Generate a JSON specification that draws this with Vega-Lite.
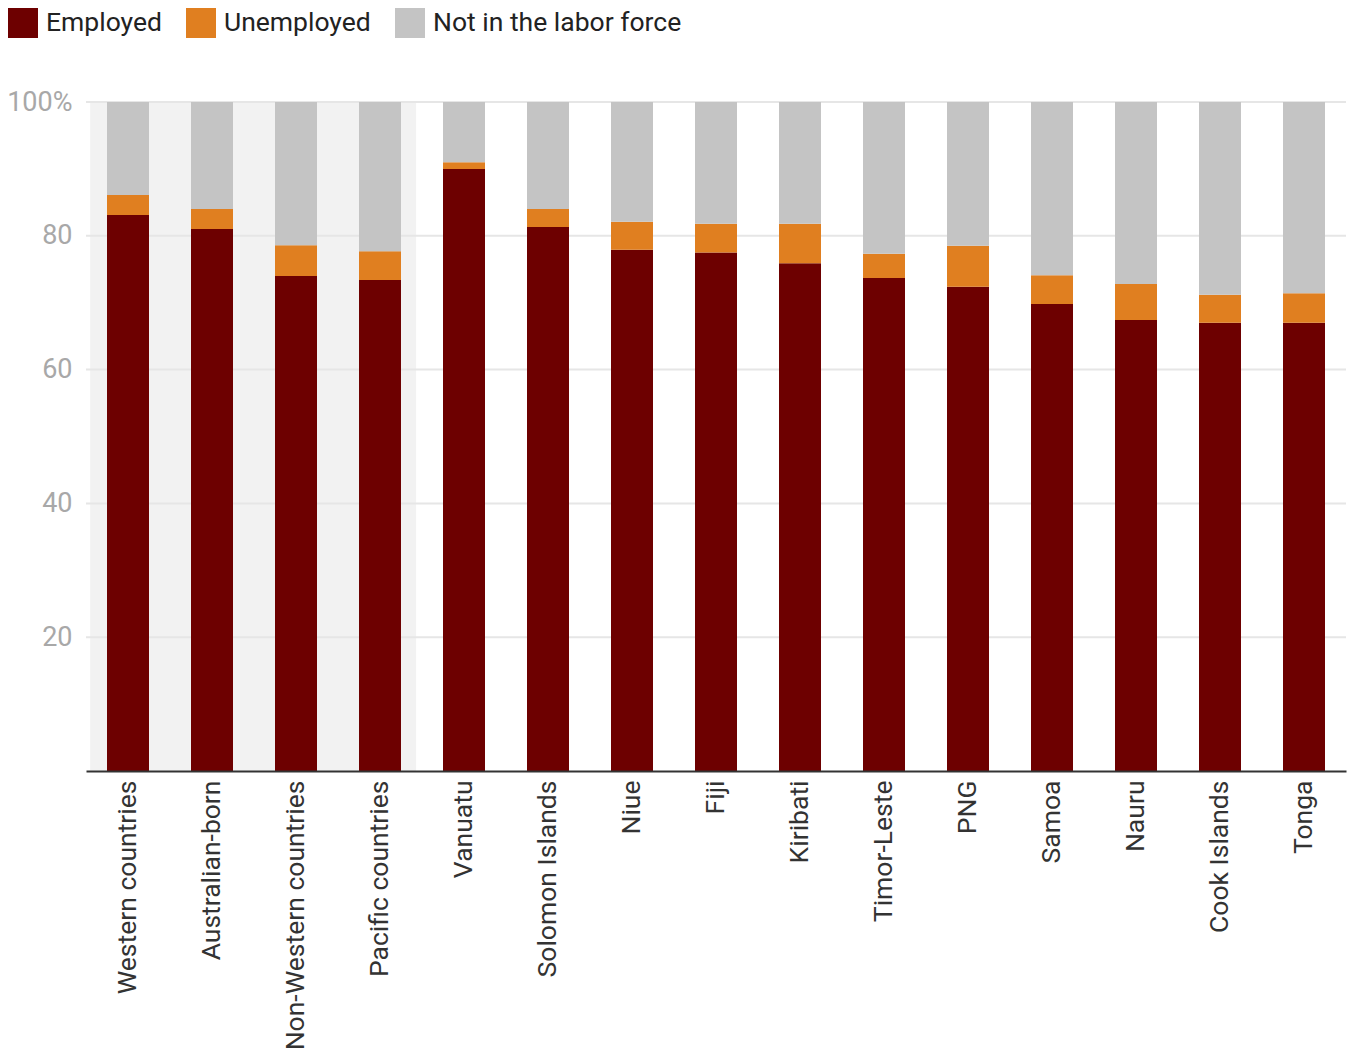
{
  "$schema": "https://vega.github.io/schema/vega-lite/v6.json",
  "width": 1260,
  "height": 669,
  "autosize": {"type": "none"},
  "padding": {"left": 86, "top": 102, "right": 6, "bottom": 283},
  "background": "white",
  "config": {
    "font": "Roboto",
    "view": {"stroke": null}
  },
  "datasets": {
    "bars": [
      {"group": "Western countries", "status": "Employed", "k": 1, "value": 83.1},
      {"group": "Western countries", "status": "Unemployed", "k": 2, "value": 3.0},
      {"group": "Western countries", "status": "Not in the labor force", "k": 3, "value": 13.9},
      {"group": "Australian-born", "status": "Employed", "k": 1, "value": 81.0},
      {"group": "Australian-born", "status": "Unemployed", "k": 2, "value": 3.0},
      {"group": "Australian-born", "status": "Not in the labor force", "k": 3, "value": 16.0},
      {"group": "Non-Western countries", "status": "Employed", "k": 1, "value": 74.0},
      {"group": "Non-Western countries", "status": "Unemployed", "k": 2, "value": 4.6},
      {"group": "Non-Western countries", "status": "Not in the labor force", "k": 3, "value": 21.4},
      {"group": "Pacific countries", "status": "Employed", "k": 1, "value": 73.4},
      {"group": "Pacific countries", "status": "Unemployed", "k": 2, "value": 4.3},
      {"group": "Pacific countries", "status": "Not in the labor force", "k": 3, "value": 22.3},
      {"group": "Vanuatu", "status": "Employed", "k": 1, "value": 90.0},
      {"group": "Vanuatu", "status": "Unemployed", "k": 2, "value": 1.0},
      {"group": "Vanuatu", "status": "Not in the labor force", "k": 3, "value": 9.0},
      {"group": "Solomon Islands", "status": "Employed", "k": 1, "value": 81.3},
      {"group": "Solomon Islands", "status": "Unemployed", "k": 2, "value": 2.7},
      {"group": "Solomon Islands", "status": "Not in the labor force", "k": 3, "value": 16.0},
      {"group": "Niue", "status": "Employed", "k": 1, "value": 77.9},
      {"group": "Niue", "status": "Unemployed", "k": 2, "value": 4.2},
      {"group": "Niue", "status": "Not in the labor force", "k": 3, "value": 17.9},
      {"group": "Fiji", "status": "Employed", "k": 1, "value": 77.5},
      {"group": "Fiji", "status": "Unemployed", "k": 2, "value": 4.3},
      {"group": "Fiji", "status": "Not in the labor force", "k": 3, "value": 18.2},
      {"group": "Kiribati", "status": "Employed", "k": 1, "value": 75.9},
      {"group": "Kiribati", "status": "Unemployed", "k": 2, "value": 5.9},
      {"group": "Kiribati", "status": "Not in the labor force", "k": 3, "value": 18.2},
      {"group": "Timor-Leste", "status": "Employed", "k": 1, "value": 73.7},
      {"group": "Timor-Leste", "status": "Unemployed", "k": 2, "value": 3.6},
      {"group": "Timor-Leste", "status": "Not in the labor force", "k": 3, "value": 22.7},
      {"group": "PNG", "status": "Employed", "k": 1, "value": 72.4},
      {"group": "PNG", "status": "Unemployed", "k": 2, "value": 6.1},
      {"group": "PNG", "status": "Not in the labor force", "k": 3, "value": 21.5},
      {"group": "Samoa", "status": "Employed", "k": 1, "value": 69.8},
      {"group": "Samoa", "status": "Unemployed", "k": 2, "value": 4.3},
      {"group": "Samoa", "status": "Not in the labor force", "k": 3, "value": 25.9},
      {"group": "Nauru", "status": "Employed", "k": 1, "value": 67.4},
      {"group": "Nauru", "status": "Unemployed", "k": 2, "value": 5.4},
      {"group": "Nauru", "status": "Not in the labor force", "k": 3, "value": 27.2},
      {"group": "Cook Islands", "status": "Employed", "k": 1, "value": 67.0},
      {"group": "Cook Islands", "status": "Unemployed", "k": 2, "value": 4.2},
      {"group": "Cook Islands", "status": "Not in the labor force", "k": 3, "value": 28.8},
      {"group": "Tonga", "status": "Employed", "k": 1, "value": 67.0},
      {"group": "Tonga", "status": "Unemployed", "k": 2, "value": 4.4},
      {"group": "Tonga", "status": "Not in the labor force", "k": 3, "value": 28.6}
    ],
    "shade": [
      {"start": 0.05, "end": 3.93}
    ],
    "grid": [
      {"v": 20}, {"v": 40}, {"v": 60}, {"v": 80}, {"v": 100}
    ]
  },
  "resolve": {"scale": {"x": "independent"}, "axis": {"x": "independent"}},
  "layer": [
    {
      "data": {"name": "shade"},
      "mark": {"type": "rect", "color": "#f2f2f2"},
      "encoding": {
        "x": {"field": "start", "type": "quantitative", "scale": {"domain": [0, 15], "nice": false, "zero": false}, "axis": null},
        "x2": {"field": "end"},
        "y": {"datum": 0, "type": "quantitative"},
        "y2": {"datum": 100}
      }
    },
    {
      "data": {"name": "grid"},
      "mark": {"type": "rule", "color": "#e6e6e6", "strokeWidth": 2},
      "encoding": {
        "y": {"field": "v", "type": "quantitative"}
      }
    },
    {
      "data": {"name": "bars"},
      "mark": {"type": "bar"},
      "encoding": {
        "x": {
          "field": "group", "type": "nominal",
          "sort": ["Western countries", "Australian-born", "Non-Western countries", "Pacific countries", "Vanuatu", "Solomon Islands", "Niue", "Fiji", "Kiribati", "Timor-Leste", "PNG", "Samoa", "Nauru", "Cook Islands", "Tonga"],
          "scale": {"paddingInner": 0.5, "paddingOuter": 0.25},
          "axis": {
            "title": null, "labelAngle": -90, "labelFontSize": 26.5, "labelColor": "#333333",
            "labelPadding": 9, "ticks": false, "domainColor": "#333333", "domainWidth": 2,
            "labelLimit": 400, "zindex": 1
          }
        },
        "y": {
          "field": "value", "type": "quantitative", "stack": "zero",
          "scale": {"domain": [0, 100]},
          "axis": {
            "title": null, "values": [20, 40, 60, 80, 100],
            "labelExpr": "datum.value == 100 ? '100%' : datum.label",
            "labelFontSize": 27, "labelColor": "#a8a8a8", "labelPadding": 14,
            "ticks": false, "domain": false, "grid": false
          }
        },
        "order": {"field": "k", "type": "quantitative", "sort": "ascending"},
        "color": {
          "field": "status", "type": "nominal",
          "scale": {"domain": ["Employed", "Unemployed", "Not in the labor force"], "range": ["#6d0000", "#e07f20", "#c4c4c4"]},
          "legend": {
            "title": null, "orient": "none", "direction": "horizontal",
            "legendX": -78, "legendY": -94,
            "symbolType": "square", "symbolSize": 900, "symbolStrokeWidth": 0,
            "labelFontSize": 26.5, "labelColor": "#222222", "labelOffset": 8,
            "columnPadding": 24, "labelLimit": 400
          }
        }
      }
    }
  ]
}
